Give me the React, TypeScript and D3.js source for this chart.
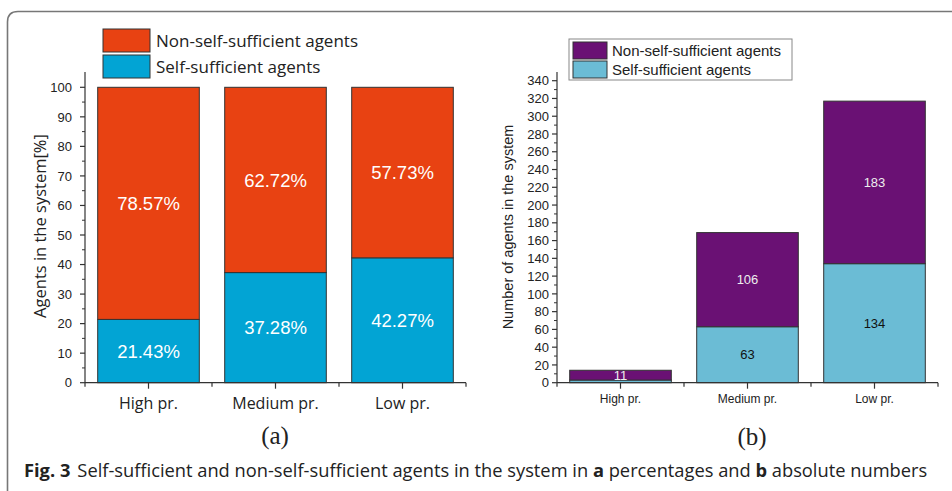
import React from 'react';
import * as d3 from 'd3';

// data
const categories = ['High pr.', 'Medium pr.', 'Low pr.'];
const seriesNames = ['Non-self-sufficient agents', 'Self-sufficient agents'];
const pctSelf = [21.43, 37.28, 42.27];
const pctNon = [78.57, 62.72, 57.73];
const countSelf = [3, 63, 134];
const countNon = [11, 106, 183];
const countLabelsSelf = ['', '63', '134'];
const pctTicks = d3.range(0, 101, 10);
const countTicks = d3.range(0, 341, 20);

const W = 952;
const H = 491;
const ARIAL = 'Liberation Sans, Arial, sans-serif';
const OPEN = 'Open Sans, Noto Sans, sans-serif';

const colA = { non: '#e84212', self: '#02a4d4' };
const colB = { non: '#6a1174', self: '#6bbcd5' };

function PanelA() {
  const x = d3.scaleBand().domain(categories).range([85, 466]).paddingInner(0.2).paddingOuter(0.1);
  const y = d3.scaleLinear().domain([0, 100]).range([382.7, 87.3]);
  const stack = d3.stack<any>().keys(['self', 'non'])(
    categories.map((c, i) => ({ cat: c, self: pctSelf[i], non: pctNon[i] }))
  );
  const minor = d3.range(5, 105, 10);
  const bounds = d3.range(0, categories.length + 1).map(i => 85 + i * x.step());
  return (
    <g>
      {stack.map(layer => (
        <g key={layer.key}>
          {layer.map((d, i) => (
            <rect key={i} x={x(categories[i])} width={x.bandwidth()}
              y={y(d[1])} height={y(d[0]) - y(d[1])}
              fill={layer.key === 'self' ? colA.self : colA.non}
              stroke="#333" strokeWidth={1} />
          ))}
          {layer.map((d, i) => (
            <text key={'t' + i} x={x(categories[i])! + x.bandwidth() / 2}
              y={y((d[0] + d[1]) / 2)} dy="0.36em" textAnchor="middle"
              fill="#fff" fontFamily={ARIAL} fontSize={18.5}>
              {(d[1] - d[0]).toFixed(2)}%
            </text>
          ))}
        </g>
      ))}
      {/* y axis */}
      <line x1={85} x2={85} y1={y(105.2)} y2={y(0)} stroke="#333" strokeWidth={1.2} />
      {pctTicks.map(t => (
        <g key={t}>
          <line x1={80} x2={85} y1={y(t)} y2={y(t)} stroke="#333" strokeWidth={1.2} />
          <text x={72} y={y(t)} dy="0.36em" textAnchor="end" fontFamily={ARIAL} fontSize={13} fill="#222">{t}</text>
        </g>
      ))}
      {minor.map(t => (
        <line key={'m' + t} x1={82} x2={85} y1={y(t)} y2={y(t)} stroke="#333" strokeWidth={1} />
      ))}
      {/* x axis */}
      <line x1={85} x2={466} y1={y(0)} y2={y(0)} stroke="#333" strokeWidth={1.2} />
      {bounds.map((b, i) => (
        <line key={'b' + i} x1={b} x2={b} y1={y(0)} y2={y(0) + 4} stroke="#333" strokeWidth={1.2} />
      ))}
      {categories.map(c => (
        <g key={c}>
          <line x1={x(c)! + x.bandwidth() / 2} x2={x(c)! + x.bandwidth() / 2} y1={y(0)} y2={y(0) + 6} stroke="#333" strokeWidth={1.2} />
          <text x={x(c)! + x.bandwidth() / 2} y={409} textAnchor="middle" fontFamily={OPEN} fontSize={16} fill="#222">{c}</text>
        </g>
      ))}
      <text transform="translate(46,226) rotate(-90)" textAnchor="middle" fontFamily={OPEN} fontSize={16.5} fill="#222">
        Agents in the system[%]
      </text>
      {/* legend */}
      {seriesNames.map((s, i) => (
        <g key={s}>
          <rect x={103} y={29 + i * 26} width={47} height={23} fill={i === 0 ? colA.non : colA.self} stroke="#333" strokeWidth={1} />
          <text x={156} y={41 + i * 26} dy="0.36em" fontFamily={OPEN} fontSize={17} fill="#222">{s}</text>
        </g>
      ))}
      <text x={275} y={444} textAnchor="middle" fontFamily="Liberation Serif, DejaVu Serif, serif" fontSize={25} fill="#222">(a)</text>
    </g>
  );
}

function PanelB() {
  const x = d3.scaleBand().domain(categories).range([557, 938]).paddingInner(0.2).paddingOuter(0.1);
  const y = d3.scaleLinear().domain([0, 340]).range([382.7, 80.7]);
  const stack = d3.stack<any>().keys(['self', 'non'])(
    categories.map((c, i) => ({ cat: c, self: countSelf[i], non: countNon[i] }))
  );
  const minor = d3.range(10, 350, 20);
  const bounds = d3.range(0, categories.length + 1).map(i => 557 + i * x.step());
  return (
    <g>
      {stack.map(layer => (
        <g key={layer.key}>
          {layer.map((d, i) => (
            <rect key={i} x={x(categories[i])} width={x.bandwidth()}
              y={y(d[1])} height={y(d[0]) - y(d[1])}
              fill={layer.key === 'self' ? colB.self : colB.non}
              stroke="#333" strokeWidth={1} />
          ))}
          {layer.map((d, i) => {
            const label = layer.key === 'self' ? countLabelsSelf[i] : String(countNon[i]);
            return (
              <text key={'t' + i} x={x(categories[i])! + x.bandwidth() / 2}
                y={y((d[0] + d[1]) / 2)} dy="0.36em" textAnchor="middle"
                fill={layer.key === 'self' ? '#111' : '#eee'} fontFamily={ARIAL} fontSize={13}>
                {label}
              </text>
            );
          })}
        </g>
      ))}
      <line x1={557} x2={557} y1={72} y2={y(0)} stroke="#333" strokeWidth={1.2} />
      {countTicks.map(t => (
        <g key={t}>
          <line x1={552} x2={557} y1={y(t)} y2={y(t)} stroke="#333" strokeWidth={1.2} />
          <text x={549} y={y(t)} dy="0.36em" textAnchor="end" fontFamily={ARIAL} fontSize={13} fill="#222">{t}</text>
        </g>
      ))}
      {minor.map(t => (
        <line key={'m' + t} x1={554} x2={557} y1={y(t)} y2={y(t)} stroke="#333" strokeWidth={1} />
      ))}
      <line x1={557} x2={938} y1={y(0)} y2={y(0)} stroke="#333" strokeWidth={1.2} />
      {bounds.map((b, i) => (
        <line key={'b' + i} x1={b} x2={b} y1={y(0)} y2={y(0) + 4} stroke="#333" strokeWidth={1.2} />
      ))}
      {categories.map(c => (
        <g key={c}>
          <line x1={x(c)! + x.bandwidth() / 2} x2={x(c)! + x.bandwidth() / 2} y1={y(0)} y2={y(0) + 6} stroke="#333" strokeWidth={1.2} />
          <text x={x(c)! + x.bandwidth() / 2} y={403} textAnchor="middle" fontFamily={ARIAL} fontSize={12} fill="#222">{c}</text>
        </g>
      ))}
      <text transform="translate(513,227) rotate(-90)" textAnchor="middle" fontFamily={ARIAL} fontSize={14.5} fill="#222">
        Number of agents in the system
      </text>
      <rect x={569} y={39} width={223} height={41} fill="#fff" stroke="#888" strokeWidth={1} />
      {seriesNames.map((s, i) => (
        <g key={s}>
          <rect x={573} y={42 + i * 19} width={34} height={17} fill={i === 0 ? colB.non : colB.self} stroke="#333" strokeWidth={1} />
          <text x={612} y={50.5 + i * 19} dy="0.36em" fontFamily={ARIAL} fontSize={15} fill="#222">{s}</text>
        </g>
      ))}
      <text x={752} y={445} textAnchor="middle" fontFamily="Liberation Serif, DejaVu Serif, serif" fontSize={25} fill="#222">(b)</text>
    </g>
  );
}

export default function App() {
  return (
    <svg width={W} height={H} style={{ position: 'absolute', left: 0, top: 0, background: '#fff' }}>
      <path d={`M7.5,${H} L7.5,22 Q7.5,11.5 18,11.5 L${W},11.5`} fill="none" stroke="#777" strokeWidth={1.6} />
      <PanelA />
      <PanelB />
      <text x={24} y={477} fontFamily={OPEN} fontSize={18.3} fill="#222">
        <tspan fontWeight="bold">Fig. 3</tspan>
        <tspan dx={7}>Self-sufficient and non-self-sufficient agents in the system in </tspan>
        <tspan fontWeight="bold">a</tspan>
        <tspan> percentages and </tspan>
        <tspan fontWeight="bold">b</tspan>
        <tspan> absolute numbers</tspan>
      </text>
    </svg>
  );
}
